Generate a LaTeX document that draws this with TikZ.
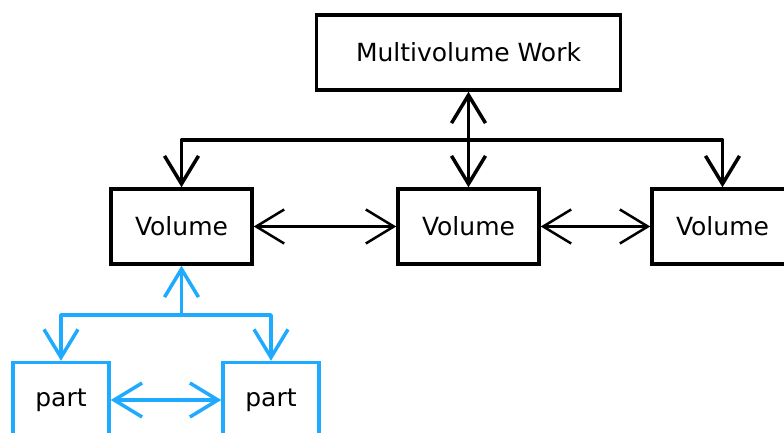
\documentclass[tikz,border=0pt]{standalone}
\usepackage{fontspec}
\setmainfont{DejaVu Sans}
\usetikzlibrary{arrows.meta}
\definecolor{partblue}{RGB}{30,170,255}
\begin{document}
\begin{tikzpicture}[x=1pt, y=-1pt, line join = round, line cap = round, >={Straight Barb[length=28pt,width=34pt]}, font=\fontsize{25}{30}\selectfont]
	\tikzset{box style/.style={draw, line width=3.5pt, line join=miter, minimum height=75pt, inner sep=0pt}}
	\useasboundingbox (0,0) rectangle (784,433);
	\clip (0,0) rectangle (784,433);
	\node[box style, minimum width=304pt] (work) at (468.5,52.5) {Multivolume Work};
	\foreach \v/\x in {vol1/181.5, vol2/468.5, vol3/722.5}
		\node[box style, minimum width=141pt] (\v) at (\x,226.5) {Volume};
	\foreach \p/\x in {part1/61, part2/271}
		\node[box style, draw=partblue, minimum width=96pt] (\p) at (\x,400) {part};
	\path (468.5,140) coordinate (hub)
	(181.5,315) coordinate (parthub);
	% volumes
	\draw[<->, line width=3.5pt] (work) -- (vol2);
	\draw[->, line width=3.5pt] (hub) -| (vol1);
	\draw[->, line width=3.5pt] (hub) -| (vol3);
	\draw[<->, line width=2.5pt] (vol1) -- (vol2);
	\draw[<->, line width=2.5pt] (vol2) -- (vol3);
	% parts
	\draw[->, partblue, line width=3.5pt] (parthub) -- (vol1);
	\draw[->, partblue, line width=3.5pt] (parthub) -| (part1);
	\draw[->, partblue, line width=3.5pt] (parthub) -| (part2);
	\draw[<->, partblue, line width=3.5pt] (part1) -- (part2);
\end{tikzpicture}
\end{document}
